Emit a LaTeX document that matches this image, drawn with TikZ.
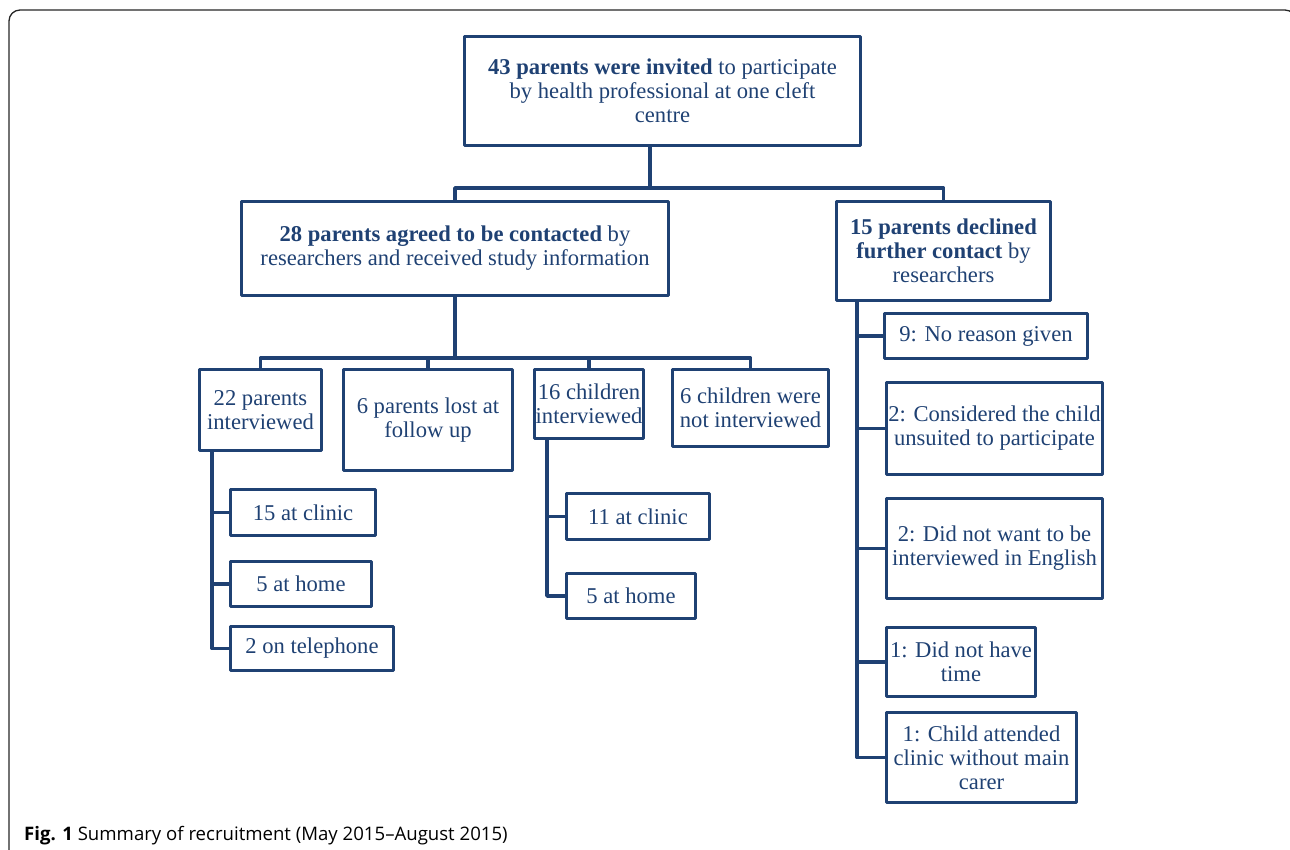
\documentclass[tikz,border=0pt]{standalone}
\usepackage{fontspec}
\setmainfont{Liberation Serif}
\newfontfamily\capfont{Open Sans}
\definecolor{navy}{HTML}{1F4173}
\begin{document}
\begin{tikzpicture}[x=1pt, y=-1pt, line join=round, line cap=round,
	box/.style={draw=navy, line width=3.5pt, text=navy, align=center, inner sep=1pt,
		font=\fontsize{22.6}{24}\selectfont},
	link/.style={draw=navy, line width=3.5pt}]
	\useasboundingbox (0,0) rectangle (1290,850);
	\draw[rounded corners=11pt, line width=1.3pt, black!85] (9,10) rectangle (1296,880);
	% first level
	\node[box, minimum width=396, minimum height=109] (top) at (662.5,91) {\textbf{43 parents were invited} to participate\\by health professional at one cleft\\centre};
	\node[box, minimum width=427, minimum height=94] (agree) at (455,248.5) {\textbf{28 parents agreed to be contacted} by\\researchers and received study information};
	\node[box, minimum width=214, minimum height=99] (decl) at (943.5,251) {\textbf{15 parents declined}\\\textbf{further contact} by\\researchers};
	% second level
	\node[box, minimum width=122, minimum height=81] (interv) at (260.5,410) {22 parents\\interviewed};
	\node[box, minimum width=169, minimum height=101] (lost) at (428,420) {6 parents lost at\\follow up};
	\node[box, minimum width=109, minimum height=69] (childi) at (589,404) {16 children\\interviewed};
	\node[box, minimum width=156, minimum height=77] (notint) at (750.5,408) {6 children were\\not interviewed};
	% parents interviewed
	\node[box, minimum width=145, minimum height=46] (clinicA) at (303,512.5) {15 at clinic};
	\node[box, minimum width=141, minimum height=45] (homeA) at (301,584) {5 at home};
	\node[box, minimum width=163, minimum height=44] (telA) at (312,648.5) {2 on telephone};
	% children interviewed
	\node[box, minimum width=143, minimum height=46] (clinicB) at (638,516.5) {11 at clinic};
	\node[box, minimum width=129, minimum height=45] (homeB) at (631,596) {5 at home};
	% reasons declined
	\node[box, minimum width=203, minimum height=45] (rsnA) at (986,336) {9: No reason given};
	\node[box, minimum width=216, minimum height=92] (rsnB) at (994.5,428.5) {2: Considered the child\\unsuited to participate};
	\node[box, minimum width=216, minimum height=100] (rsnC) at (994.5,548.5) {2: Did not want to be\\interviewed in English};
	\node[box, minimum width=149, minimum height=69] (rsnD) at (961,662) {1: Did not have\\time};
	\node[box, minimum width=190, minimum height=90] (rsnE) at (981.5,757.5) {1: Child attended\\clinic without main\\carer};
	% connectors
	\coordinate (barA) at (650,188);
	\coordinate (barB) at (455,358);
	\coordinate (trA) at (212,0);
	\coordinate (trB) at (547,0);
	\coordinate (trC) at (857,0);
	\draw[link] (top.south -| barA) -- (barA);
	\draw[link] (agree.north) |- (barA) -| (decl.north);
	\draw[link] (agree.south) -- (barB);
	\draw[link] (interv.north) |- (barB) -| (notint.north);
	\foreach \n in {lost,childi} \draw[link] (\n.north) -- (\n.north |- barB);
	\draw[link] (interv.south -| trA) |- (telA.west);
	\foreach \n in {clinicA,homeA} \draw[link] (\n.west) -- (\n.west -| trA);
	\draw[link] (childi.south -| trB) |- (homeB.west);
	\draw[link] (clinicB.west) -- (clinicB.west -| trB);
	\draw[link] (decl.south -| trC) |- (rsnE.west);
	\foreach \n in {rsnA,rsnB,rsnC,rsnD} \draw[link] (\n.west) -- (\n.west -| trC);
	% caption
	\node[anchor=base west, inner sep=0pt, font=\capfont\fontsize{18.6}{20}\selectfont] (cap) at (24,840) {\textbf{Fig. 1} Summary of recruitment (May 2015–August 2015)};
\end{tikzpicture}
\end{document}
